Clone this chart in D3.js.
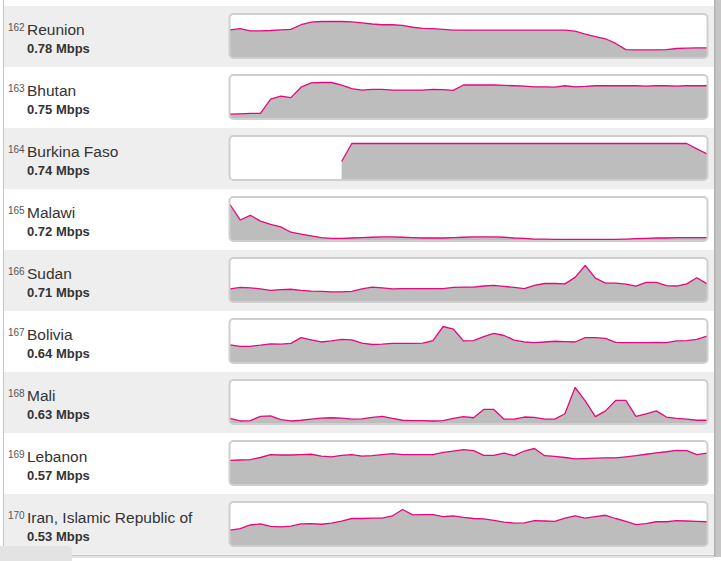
<!DOCTYPE html>
<html>
<head>
<meta charset="utf-8">
<script src="https://cdn.jsdelivr.net/npm/d3@7/dist/d3.min.js"></script>
<style>
  html, body { margin: 0; padding: 0; background: #fff; }
  svg { display: block; }
  text { font-family: "Liberation Sans", Arial, sans-serif; }
</style>
</head>
<body>
<svg id="chart" width="721" height="561"></svg>
<script>
// ---- data ----
const ranks = [162, 163, 164, 165, 166, 167, 168, 169, 170];
const countries = ["Reunion", "Bhutan", "Burkina Faso", "Malawi", "Sudan", "Bolivia", "Mali", "Lebanon", "Iran, Islamic Republic of"];
const speeds = [0.78, 0.75, 0.74, 0.72, 0.71, 0.64, 0.63, 0.57, 0.53];
const speedUnit = "Mbps";

// relative speed history (index, peak of each series = 100), 48 periods
const reunion = [77,80,74,74,75,77,78,91,98,100,100,100,99,96,93,91,91,89,84,81,80,78,76,76,76,76,76,76,76,76,76,76,76,76,73,65,58,52,39,22,21,21,21,22,25,26,27,27];
const bhutan = [12,13,14,14,54,62,58,87,99,100,100,93,83,79,81,81,79,79,79,79,81,80,78,93,93,93,93,92,91,90,88,88,87,91,88,89,91,91,91,91,91,90,91,91,90,91,91,91];
const burkinaFaso = [null,null,null,null,null,null,null,null,null,null,null,50,100,100,100,100,100,100,100,100,100,100,100,100,100,100,100,100,100,100,100,100,100,100,100,100,100,100,100,100,100,100,100,100,100,100,85,71];
const malawi = [100,57,70,54,45,38,23,18,13,8,6,6,7,8,9,10,10,9,8,7,7,7,8,9,10,10,10,9,7,6,4,4,3,3,3,3,3,3,3,4,5,6,7,7,8,8,8,8];
const sudan = [35,39,38,35,31,33,34,31,29,28,27,27,28,35,40,38,35,36,36,36,36,36,39,40,40,43,45,42,39,36,45,50,50,49,67,100,65,51,51,48,43,53,53,44,43,49,66,49];
const bolivia = [49,45,45,48,52,51,53,69,63,57,60,64,63,54,50,51,53,53,53,54,61,100,93,60,61,72,81,75,62,57,55,57,59,58,57,69,69,67,56,55,55,55,56,55,60,61,64,73];
const mali = [14,7,8,20,21,11,7,9,12,15,16,15,12,13,17,20,14,9,8,8,7,8,14,19,16,39,39,12,12,18,17,12,12,27,100,63,19,35,64,64,20,27,35,18,14,12,9,9];
const lebanon = [67,68,69,75,83,82,82,83,84,79,77,81,83,79,80,83,86,83,83,83,83,89,93,97,94,81,81,87,80,93,100,80,78,75,71,72,73,74,74,77,80,84,88,91,95,94,83,87];
const iran = [43,47,57,60,53,52,54,60,61,59,62,68,75,75,76,76,82,100,85,86,86,80,82,78,75,74,70,65,62,63,69,68,67,76,82,76,80,84,75,67,58,61,66,66,69,68,67,66];

const series = [reunion, bhutan, burkinaFaso, malawi, sudan, bolivia, mali, lebanon, iran];

// ---- layout ----
const W = 721, H = 561;
const top0 = 6, rowH = 61;
const panelLeft = 4, panelRight = 714;
const boxX = 229.5, boxW = 478, boxTop = 8, boxH = 44;
const plotX0 = 230, plotX1 = 707, plotBottom = 51.5, plotTop = 15.5;

const svg = d3.select("#chart");
svg.append("rect").attr("width", W).attr("height", H).attr("fill", "#fff");

const rowsG = svg.append("g");
const nPts = reunion.length;
const x = d3.scaleLinear().domain([0, nPts - 1]).range([plotX0, plotX1]);

countries.forEach((name, i) => {
  const g = rowsG.append("g").attr("transform", `translate(0,${top0 + i * rowH})`);
  g.append("rect").attr("x", panelLeft).attr("y", 0)
    .attr("width", panelRight - panelLeft).attr("height", rowH)
    .attr("fill", i % 2 === 0 ? "#eeeeee" : "#ffffff");

  // labels
  g.append("text").attr("x", 8).attr("y", 24.5)
    .attr("font-size", 10).attr("fill", "#555").text(ranks[i]);
  g.append("text").attr("x", 27).attr("y", 28.5)
    .attr("font-size", 15.5).attr("fill", "#333").text(name);
  g.append("text").attr("x", 27).attr("y", 46.5)
    .attr("font-size", 13).attr("font-weight", "bold").attr("fill", "#333")
    .text(speeds[i].toFixed(2) + " " + speedUnit);

  // sparkline
  const vals = series[i];
  const y = d3.scaleLinear().domain([0, d3.max(vals)]).range([plotBottom, plotTop]);
  g.append("rect").attr("x", boxX).attr("y", boxTop).attr("width", boxW).attr("height", boxH)
    .attr("rx", 4).attr("fill", "#fff");
  const area = d3.area().defined(d => d != null)
    .x((d, j) => x(j)).y0(plotBottom).y1(d => y(d));
  const line = d3.line().defined(d => d != null)
    .x((d, j) => x(j)).y(d => y(d));
  g.append("path").attr("d", area(vals)).attr("fill", "#bdbdbd");
  g.append("path").attr("d", line(vals)).attr("fill", "none")
    .attr("stroke", "#e5097f").attr("stroke-width", 1.3).attr("stroke-linejoin", "round");
  g.append("rect").attr("x", boxX).attr("y", boxTop).attr("width", boxW).attr("height", boxH)
    .attr("rx", 4).attr("fill", "none").attr("stroke", "#cfcfcf").attr("stroke-width", 2);
});

const panelBottom = top0 + countries.length * rowH;
// left border
svg.append("line").attr("x1", 3.5).attr("x2", 3.5).attr("y1", 0).attr("y2", panelBottom)
  .attr("stroke", "#c4c4c4").attr("stroke-width", 1);
// right shadow
svg.append("rect").attr("x", panelRight).attr("y", 0).attr("width", W - panelRight).attr("height", panelBottom + 2)
  .attr("fill", "#c6c6c6");
svg.append("rect").attr("x", panelRight).attr("y", 0).attr("width", 1.5).attr("height", panelBottom + 2)
  .attr("fill", "#b2b2b2");
// bottom shadow
svg.append("rect").attr("x", 3).attr("y", panelBottom).attr("width", panelRight - 3).attr("height", 1.5)
  .attr("fill", "#c8c8c8");
svg.append("rect").attr("x", 3).attr("y", panelBottom + 1.5).attr("width", panelRight - 3).attr("height", 1.5)
  .attr("fill", "#e2e2e2");
// bottom-left tab
svg.append("path")
  .attr("d", `M0,${H} L0,546 L68,546 Q72,546 72,550 L72,${H} Z`)
  .attr("fill", "#e3e3e3");
</script>
</body>
</html>
